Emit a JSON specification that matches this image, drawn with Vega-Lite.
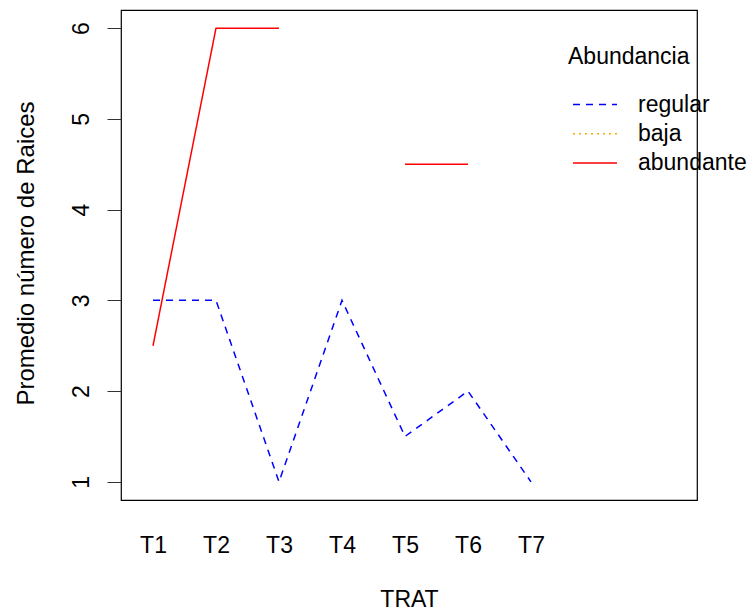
{
  "$schema": "https://vega.github.io/schema/vega-lite/v6.json",
  "width": 576,
  "height": 490,
  "autosize": {"type": "none"},
  "padding": {"left": 121, "top": 10, "right": 51, "bottom": 110},
  "background": "white",
  "config": {
    "view": {"stroke": "#000", "strokeWidth": 1.2},
    "font": "Liberation Sans"
  },
  "data": {
    "values": [
      {"TRAT": "T1", "Abundancia": "regular", "Raices": 3},
      {"TRAT": "T2", "Abundancia": "regular", "Raices": 3},
      {"TRAT": "T3", "Abundancia": "regular", "Raices": 1},
      {"TRAT": "T4", "Abundancia": "regular", "Raices": 3},
      {"TRAT": "T5", "Abundancia": "regular", "Raices": 1.5},
      {"TRAT": "T6", "Abundancia": "regular", "Raices": 2},
      {"TRAT": "T7", "Abundancia": "regular", "Raices": 1},
      {"TRAT": "T1", "Abundancia": "baja", "Raices": null},
      {"TRAT": "T2", "Abundancia": "baja", "Raices": null},
      {"TRAT": "T3", "Abundancia": "baja", "Raices": null},
      {"TRAT": "T4", "Abundancia": "baja", "Raices": null},
      {"TRAT": "T5", "Abundancia": "baja", "Raices": null},
      {"TRAT": "T6", "Abundancia": "baja", "Raices": null},
      {"TRAT": "T7", "Abundancia": "baja", "Raices": null},
      {"TRAT": "T1", "Abundancia": "abundante", "Raices": 2.5},
      {"TRAT": "T2", "Abundancia": "abundante", "Raices": 6},
      {"TRAT": "T3", "Abundancia": "abundante", "Raices": 6},
      {"TRAT": "T4", "Abundancia": "abundante", "Raices": null},
      {"TRAT": "T5", "Abundancia": "abundante", "Raices": 4.5},
      {"TRAT": "T6", "Abundancia": "abundante", "Raices": 4.5},
      {"TRAT": "T7", "Abundancia": "abundante", "Raices": null}
    ]
  },
  "mark": {"type": "line", "strokeWidth": 1.5, "invalid": "break-paths-show-domains"},
  "encoding": {
    "x": {
      "field": "TRAT",
      "type": "ordinal",
      "scale": {"type": "point", "domain": ["T1", "T2", "T3", "T4", "T5", "T6", "T7"], "range": [32, 410], "padding": 0},
      "axis": {
        "title": "TRAT",
        "ticks": false,
        "domain": false,
        "grid": false,
        "labelAngle": 0,
        "labelFontSize": 23,
        "labelBaseline": "alphabetic",
        "labelPadding": 52,
        "labelColor": "#000",
        "titleFontSize": 23,
        "titleFontWeight": "normal",
        "titleColor": "#000",
        "titleX": 288,
        "titleY": 106,
        "titleBaseline": "alphabetic",
        "titleAlign": "center"
      }
    },
    "y": {
      "field": "Raices",
      "type": "quantitative",
      "scale": {"domain": [0.8, 6.2], "nice": false, "zero": false},
      "axis": {
        "title": "Promedio número de Raices",
        "values": [1, 2, 3, 4, 5, 6],
        "grid": false,
        "domain": false,
        "tickSize": 14,
        "tickColor": "#333",
        "tickWidth": 1,
        "labelAngle": 270,
        "labelAlign": "center",
        "labelBaseline": "alphabetic",
        "labelPadding": 19,
        "labelFontSize": 23,
        "labelColor": "#000",
        "titleAngle": 270,
        "titleX": -88,
        "titleY": 243,
        "titleAlign": "center",
        "titleBaseline": "alphabetic",
        "titleFontSize": 24,
        "titleFontWeight": "normal",
        "titleColor": "#000"
      }
    },
    "color": {
      "field": "Abundancia",
      "type": "nominal",
      "scale": {"domain": ["regular", "baja", "abundante"], "range": ["#0000FF", "#FFA500", "#FF0000"]},
      "legend": {
        "orient": "none",
        "legendX": 447,
        "legendY": 36,
        "title": "Abundancia",
        "titleFontSize": 23,
        "titleFontWeight": "normal",
        "titleColor": "#000",
        "titleBaseline": "top",
        "titlePadding": 24,
        "labelFontSize": 23,
        "labelColor": "#000",
        "labelBaseline": "middle",
        "labelLimit": 300,
        "symbolType": "stroke",
        "symbolSize": 1936,
        "symbolStrokeWidth": 1.5,
        "symbolOffset": 4,
        "labelOffset": 20,
        "clipHeight": 23,
        "rowPadding": 5.3,
        "padding": 0
      }
    },
    "strokeDash": {
      "field": "Abundancia",
      "type": "nominal",
      "scale": {"domain": ["regular", "baja", "abundante"], "range": [[7, 6], [2, 4], [1, 0]]},
      "legend": {
        "orient": "none",
        "legendX": 447,
        "legendY": 36,
        "title": "Abundancia",
        "titleFontSize": 23,
        "titleFontWeight": "normal",
        "titleColor": "#000",
        "titleBaseline": "top",
        "titlePadding": 24,
        "labelFontSize": 23,
        "labelColor": "#000",
        "labelBaseline": "middle",
        "labelLimit": 300,
        "symbolType": "stroke",
        "symbolSize": 1936,
        "symbolStrokeWidth": 1.5,
        "symbolOffset": 4,
        "labelOffset": 20,
        "clipHeight": 23,
        "rowPadding": 5.3,
        "padding": 0
      }
    }
  }
}
